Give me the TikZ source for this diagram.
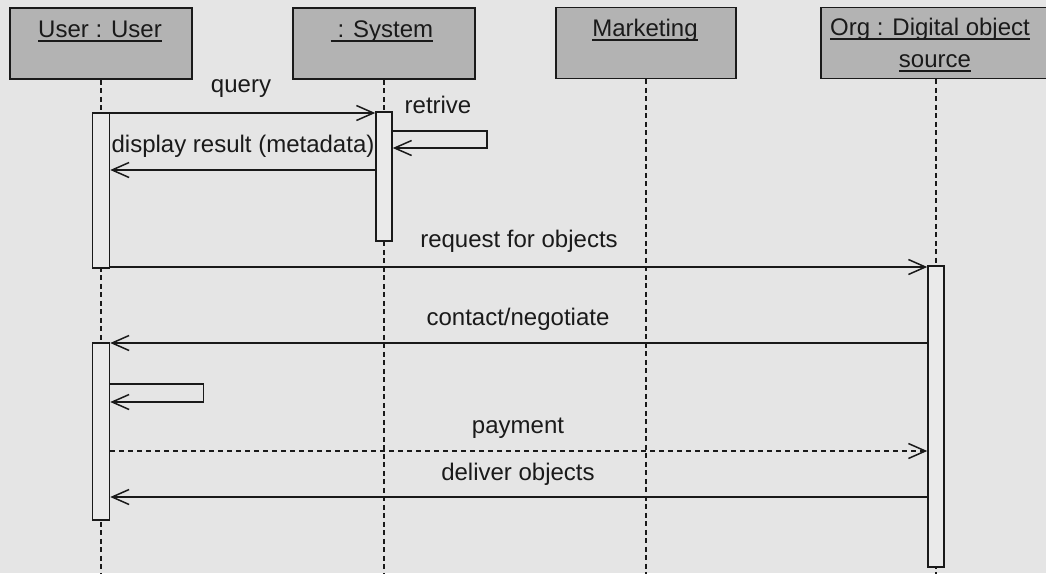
\documentclass[tikz,border=0pt]{standalone}
\usepackage{fontspec}
\setmainfont{Liberation Sans}
\usetikzlibrary{arrows.meta,calc}
\definecolor{bg}{HTML}{E5E5E5}
\definecolor{boxfill}{HTML}{B3B3B3}
\definecolor{actfill}{HTML}{EAEAEA}
\definecolor{ink}{HTML}{1A1A1A}
\begin{document}
\begin{tikzpicture}[x=1pt,y=-1pt,
  every node/.style={font=\fontsize{24}{28}\selectfont, text=ink},
  head/.style={draw=ink, line width=1.7pt, fill=boxfill, minimum height=71pt, inner sep=0pt},
  life/.style={draw=ink, line width=1.8pt, dash pattern=on 5pt off 3.5pt},
  act/.style={draw=ink, line width=1.5pt, fill=actfill, minimum width=17pt, inner sep=0pt},
  msg/.style={draw=ink, line width=1.5pt, -{Straight Barb[length=17pt,width=15pt]}},
  reply/.style={msg, dash pattern=on 5pt off 4pt},
  lbl/.style={anchor=base, inner sep=0pt},
  uline/.style={draw=ink, line width=1.3pt}
]
\fill[bg] (0,0) rectangle (1046,573);
\useasboundingbox (0,0) rectangle (1046,573);
\clip (0,0) rectangle (1046,573);

% header boxes
\node[head, minimum width=182pt] (hU) at (101,43.5) {};
\node[head, minimum width=182pt] (hS) at (384,43.5) {};
\node[head, minimum width=180pt] (hM) at (646,43) {};
\node[head, minimum width=230pt] (hO) at (936,43) {};

% header labels
\node[lbl] (tU) at (100,37) {User : User};
\draw[uline] ([yshift=-4pt]tU.base west) -- ([yshift=-4pt]tU.base east);
\node[lbl] (tS) at (382,37) {\ : System};
\draw[uline] ([yshift=-4pt]tS.base west) -- ([yshift=-4pt]tS.base east);
\node[lbl] (tM) at (645,36) {Marketing};
\draw[uline] ([yshift=-4pt]tM.base west) -- ([yshift=-4pt]tM.base east);
\node[lbl, anchor=base west] (tO1) at (830,35) {Org : Digital object};
\draw[uline] ([yshift=-4pt]tO1.base west) -- ([yshift=-4pt]tO1.base east);
\node[lbl] (tO2) at (935,67) {source};
\draw[uline] ([yshift=-4pt]tO2.base west) -- ([yshift=-4pt]tO2.base east);

% lifeline ends
\coordinate (eU) at (101,575);
\coordinate (eS) at (384,575);
\coordinate (eM) at (646,575);
\coordinate (eO) at (936,575);
\draw[life] (hU.south) -- (eU);
\draw[life] (hS.south) -- (eS);
\draw[life] (hM.south) -- (eM);
\draw[life] (hO.south) -- (eO);

% activation bars
\node[act, minimum height=155pt] (aU1) at (101,190.5) {};
\node[act, minimum height=129pt, minimum width=16pt] (aS) at (384,176.5) {};
\node[act, minimum height=301pt, minimum width=16pt] (aO) at (936,416.5) {};
\node[act, minimum height=177pt] (aU2) at (101,431.5) {};

% messages
\draw[msg] (aU1.east |- 0,113) -- (aS.west |- 0,113);
\node[lbl] (lq) at (241,92) {query};
\draw[msg] (aS.east |- 0,131) -- ++(94,0) -- ++(0,17) -- (aS.east |- 0,148);
\node[lbl] (lr) at (438,113) {retrive};
\draw[msg] (aS.west |- 0,170) -- (aU1.east |- 0,170);
\node[lbl] (ld) at (243,152) {display result (metadata)};
\draw[msg] (aU1.east |- 0,267) -- (aO.west |- 0,267);
\node[lbl] (lreq) at (519,247) {request for objects};
\draw[msg] (aO.west |- 0,343) -- (aU2.east |- 0,343);
\node[lbl] (lc) at (518,325) {contact/negotiate};
\draw[msg] (aU2.east |- 0,384) -- ++(93,0) -- ++(0,18) -- (aU2.east |- 0,402);
\draw[reply] (aU2.east |- 0,451) -- (aO.west |- 0,451);
\node[lbl] (lp) at (518,433) {payment};
\draw[msg] (aO.west |- 0,497) -- (aU2.east |- 0,497);
\node[lbl] (ldel) at (518,480) {deliver objects};
\end{tikzpicture}
\end{document}
